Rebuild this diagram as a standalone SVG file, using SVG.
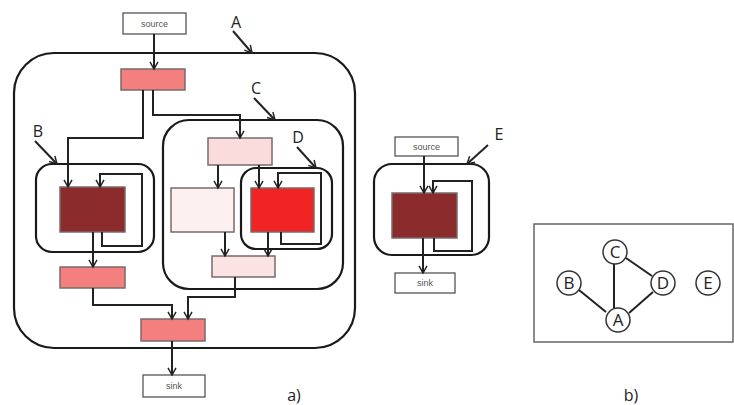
<svg xmlns="http://www.w3.org/2000/svg" width="734" height="405" viewBox="0 0 734 405">
<defs>
<marker id="ah" viewBox="0 0 10 10" refX="9" refY="5" markerWidth="8" markerHeight="9" orient="auto" markerUnits="userSpaceOnUse" style="overflow:visible">
<path d="M0,0 L9,5 L0,10" fill="none" stroke="#222" stroke-width="1.8"/>
</marker>
<style>
.c{fill:none;stroke:#222;stroke-width:2;marker-end:url(#ah)}
.l{fill:none;stroke:#222;stroke-width:2}
.grp{fill:none;stroke:#1a1a1a;stroke-width:2.2}
.bx{stroke:#7a6a6a;stroke-width:1.5}
.tb{fill:#fff;stroke:#555;stroke-width:1.3}
.t{font-family:"Liberation Sans",Arial,sans-serif;font-size:9px;fill:#555;text-anchor:middle}
.lab{font-family:"Open Sans","Liberation Sans",sans-serif;font-size:16px;fill:#222;text-anchor:middle}
.cir{fill:#fff;stroke:#333;stroke-width:1.5}
.cl{font-family:"Open Sans","Liberation Sans",sans-serif;font-size:17px;fill:#222;text-anchor:middle}
</style>
</defs>
<rect width="734" height="405" fill="#fff"/>

<!-- groups -->
<g id="A"><rect class="grp" x="14" y="53" width="341" height="295" rx="40"/><text class="lab" x="236" y="28">A</text></g>
<g id="B"><rect class="grp" x="36" y="164" width="118" height="88" rx="16"/><text class="lab" x="38" y="137">B</text></g>
<g id="C"><rect class="grp" x="163" y="120" width="180" height="169" rx="26"/><text class="lab" x="256" y="94">C</text></g>
<g id="D"><rect class="grp" x="241" y="168" width="91" height="81" rx="15"/><text class="lab" x="298" y="143">D</text></g>
<g id="E"><rect class="grp" x="374" y="164" width="115" height="91" rx="18"/><text class="lab" x="499" y="140">E</text></g>

<!-- nodes -->
<g id="source1"><rect class="tb" x="123" y="13" width="63" height="21"/><text class="t" x="154.5" y="27">source</text></g>
<g id="n1"><rect class="bx" x="121" y="69" width="64" height="21" fill="#f47f7f"/></g>
<g id="n2"><rect class="bx" x="60" y="187" width="65" height="45" fill="#8b2b2b"/></g>
<g id="n3"><rect class="bx" x="60" y="267" width="65" height="21" fill="#f47f7f"/></g>
<g id="n4"><rect class="bx" x="208" y="138" width="64" height="27" fill="#fadcdc"/></g>
<g id="n5"><rect class="bx" x="171" y="188" width="63" height="44" fill="#fdf0f0"/></g>
<g id="n6"><rect class="bx" x="251" y="188" width="63" height="44" fill="#f02424"/></g>
<g id="n7"><rect class="bx" x="212" y="256" width="63" height="21" fill="#fbe3e3"/></g>
<g id="n8"><rect class="bx" x="141" y="319" width="64" height="22" fill="#f47f7f"/></g>
<g id="sink1"><rect class="tb" x="143" y="375" width="62" height="22"/><text class="t" x="174" y="389">sink</text></g>
<g id="source2"><rect class="tb" x="395" y="137" width="63" height="19"/><text class="t" x="426.5" y="150">source</text></g>
<g id="n9"><rect class="bx" x="392" y="193" width="65" height="45" fill="#8b2b2b"/></g>
<g id="sink2"><rect class="tb" x="395" y="273" width="60" height="20"/><text class="t" x="425" y="286">sink</text></g>

<!-- connectors -->
<g id="connectors">
<path class="c" d="M154,34 V69"/>
<path class="c" d="M143,90 V138 H68 V187"/>
<path class="c" d="M153,90 V115 H240 V138"/>
<path class="c" d="M102,232 V246 H142 V174 H100 V187"/>
<path class="c" d="M93,232 V267"/>
<path class="c" d="M93,288 V305 H172 V319"/>
<path class="c" d="M235,277 V297 H188 V319"/>
<path class="c" d="M172,341 V375"/>
<path class="c" d="M218,165 V188"/>
<path class="c" d="M259,165 V188"/>
<path class="c" d="M281,232 V244 H321 V173 H278 V188"/>
<path class="c" d="M225,232 V256"/>
<path class="c" d="M268,232 V256"/>
<path class="c" d="M424,156 V193"/>
<path class="c" d="M434,238 V251 H472 V181 H433 V193"/>
<path class="c" d="M423,238 V273"/>
<!-- label pointers -->
<path class="c" d="M233,31 L252,53"/>
<path class="c" d="M35,141 L57,164"/>
<path class="c" d="M254,98 L275,120"/>
<path class="c" d="M297,147 L316,168"/>
<path class="c" d="M488,145 L467,164"/>
</g>

<text class="lab" x="294" y="401">a)</text>

<!-- panel b -->
<g id="panelb">
<rect x="534" y="224" width="199" height="118" fill="#fff" stroke="#666" stroke-width="1.5"/>
<g id="b-edges">
<line class="l" x1="614" y1="264" x2="614" y2="308"/>
<line class="l" x1="626" y1="258" x2="652" y2="276"/>
<line class="l" x1="579" y1="290" x2="606" y2="312"/>
<line class="l" x1="629" y1="313" x2="653" y2="292"/>
</g>
<g id="bC"><circle class="cir" cx="615" cy="252" r="12"/><text class="cl" x="615" y="258">C</text></g>
<g id="bB"><circle class="cir" cx="569" cy="283" r="12"/><text class="cl" x="569" y="289">B</text></g>
<g id="bD"><circle class="cir" cx="663" cy="283" r="12"/><text class="cl" x="663" y="289">D</text></g>
<g id="bE"><circle class="cir" cx="708" cy="283" r="12"/><text class="cl" x="708" y="289">E</text></g>
<g id="bA"><circle class="cir" cx="618" cy="320" r="12"/><text class="cl" x="618" y="326">A</text></g>
</g>
<text class="lab" x="631" y="401">b)</text>
</svg>
